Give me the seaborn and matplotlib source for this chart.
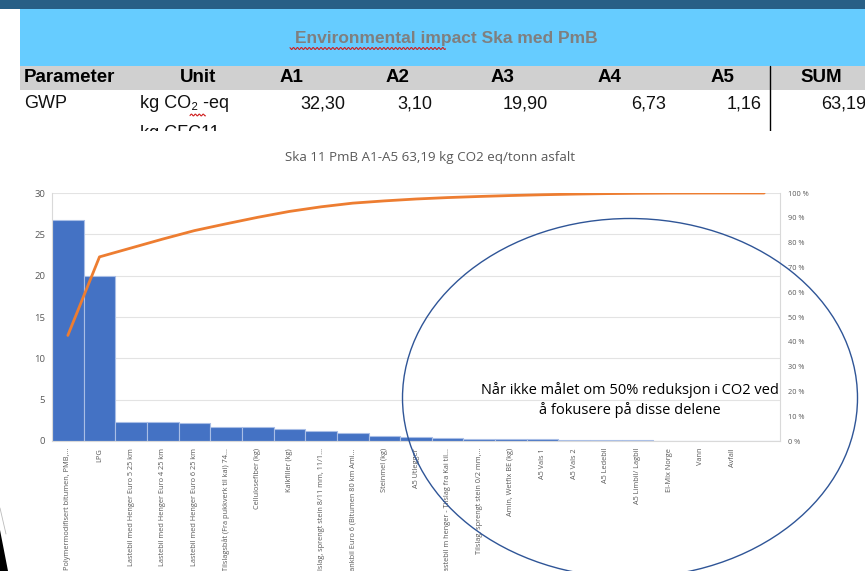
import numpy as np
import pandas as pd
import matplotlib
matplotlib.use('Agg')
import matplotlib.pyplot as plt
import seaborn as sns
from matplotlib.patches import Ellipse, Rectangle, Polygon
from matplotlib.ticker import FuncFormatter, MultipleLocator

# --- data -------------------------------------------------------------
categories = [
    "Polymermodifisert bitumen, PMB,...",
    "LPG",
    "Lastebil med Henger Euro 5 25 km",
    "Lastebil med Henger Euro 4 25 km",
    "Lastebil med Henger Euro 6 25 km",
    "Tilslagsbåt (Fra pukkverk til kai) 74...",
    "Cellulosefiber (kg)",
    "Kalkfiller (kg)",
    "Tilslag, sprengt stein 8/11 mm, 11/1...",
    "Tankbil Euro 6 (Bitumen 80 km Ami...",
    "Steinmel (kg)",
    "A5 Utlegger",
    "Lastebil m henger - Tilslag fra Kai til...",
    "Tilslag, sprengt stein 0/2 mm,...",
    "Amin, Wetfix BE (kg)",
    "A5 Vals 1",
    "A5 Vals 2",
    "A5 Ledebil",
    "A5 Limbil/ Lagbil",
    "El-Mix Norge",
    "Vann",
    "Avfall",
    " ",
]
values = [26.75, 19.90, 2.26, 2.26, 2.14, 1.72, 1.65, 1.49, 1.17, 0.93, 0.57,
          0.48, 0.36, 0.28, 0.24, 0.20, 0.16, 0.12, 0.08, 0.05, 0.02, 0.01, 0.0]

table_head = ["Parameter", "Unit", "A1", "A2", "A3", "A4", "A5", "SUM"]
table_row = ["GWP", "kg CO\u2082 -eq", "32,30", "3,10", "19,90", "6,73", "1,16", "63,19"]

chart_title = "Ska 11 PmB A1-A5 63,19 kg CO2 eq/tonn asfalt"
banner_title = "Environmental impact Ska med PmB"
note = "Når ikke målet om 50% reduksjon i CO2 ved\nå fokusere på disse delene"

df = pd.DataFrame({"kategori": categories, "verdi": values})
df["kum"] = df["verdi"].cumsum() / df["verdi"].sum()

# --- style --------------------------------------------------------------
sns.set_theme(style="white")
plt.rcParams["font.family"] = ["Open Sans", "DejaVu Sans"]
narrow = ["Liberation Sans", "DejaVu Sans"]

W, H = 865, 571
fig = plt.figure(figsize=(W / 100, H / 100), dpi=100)
fig.patch.set_facecolor("white")


def px_axes(x0, y0, x1, y1, **kw):
    return fig.add_axes([x0 / W, 1 - y1 / H, (x1 - x0) / W, (y1 - y0) / H], **kw)


# --- pareto chart -------------------------------------------------------
ax = px_axes(52, 193, 780, 441)
sns.barplot(data=df, x="kategori", y="verdi", ax=ax, color="#4472C4",
            width=1.0, saturation=1, edgecolor="#A9BEE6", linewidth=0.8)
ax.set_xlim(-0.5, len(df) - 0.5)
ax.set_ylim(0, 30)
ax.yaxis.set_major_locator(MultipleLocator(5))
ax.grid(axis="y", color="#E3E3E3", lw=0.8)
ax.set_axisbelow(True)
ax.set_xlabel("")
ax.set_ylabel("")
ax.set_xticks(range(len(df)))
ax.set_xticklabels(df["kategori"], rotation=90, ha="center", va="top",
                   fontsize=5.3, color="#595959")
ax.tick_params(axis="x", length=0, pad=5)
ax.tick_params(axis="y", length=0, pad=5, labelsize=6.8, labelcolor="#595959")
for s in ["left", "right", "bottom"]:
    ax.spines[s].set_color("#D9D9D9")
    ax.spines[s].set_linewidth(0.8)
ax.spines["top"].set_visible(False)

ax2 = ax.twinx()
sns.lineplot(x=np.arange(len(df)), y=df["kum"].values, ax=ax2,
             color="#ED7D31", lw=2)
ax2.set_ylim(0, 1)
ax2.yaxis.set_major_locator(MultipleLocator(0.1))
ax2.yaxis.set_major_formatter(FuncFormatter(lambda v, p: f"{v * 100:.0f} %"))
ax2.tick_params(axis="y", length=0, pad=6, labelsize=5.3, labelcolor="#595959")
ax2.grid(False)
for s in ax2.spines.values():
    s.set_visible(False)

fig.text(430 / W, 1 - 158 / H, chart_title, ha="center", va="center",
         fontsize=9.6, color="#595959")

# --- overlay: screenshot header, ellipse, note ---------------------------
ov = fig.add_axes([0, 0, 1, 1], zorder=10)
ov.set_xlim(0, W)
ov.set_ylim(H, 0)
ov.axis("off")
ov.patch.set_alpha(0)

ov.add_patch(Rectangle((0, 0), W, 9, color="#285F86", lw=0))
ov.add_patch(Rectangle((20, 9), W - 20, 57, color="#66CCFF", lw=0))
ov.text(446, 38, banner_title, ha="center", va="center", fontsize=12.5,
        fontweight="bold", color="#7F7F7F", family=narrow)
wx = np.arange(290, 446, 0.5)
ov.plot(wx, 48.5 + 1.0 * np.sin(wx * 1.6), color="#D02020", lw=0.8)

ov.add_patch(Rectangle((20, 66), W - 20, 24, color="#D0D0D0", lw=0))
head_x = [24, 198, 280, 386, 491, 598, 711, 800]
head_ha = ["left", "center", "left", "left", "left", "left", "left", "left"]
for t, x, ha in zip(table_head, head_x, head_ha):
    ov.text(x, 78, t, ha=ha, va="center", fontsize=13.5, fontweight="bold",
            color="black", family=narrow)

row_x = [24, 140, 345, 432, 548, 666, 762, 866]
row_ha = ["left", "left", "right", "right", "right", "right", "right", "right"]
for t, x, ha in zip(table_row, row_x, row_ha):
    ov.text(x, 104, t, ha=ha, va="center", fontsize=13, color="#111111",
            family=narrow)
ex = np.arange(190, 206, 0.5)
ov.plot(ex, 115 + 0.9 * np.sin(ex * 1.6), color="#D02020", lw=0.8)
ov.text(140, 133, "kg CFC11", ha="left", va="center", fontsize=13,
        color="#111111", family=narrow)
ov.add_patch(Rectangle((0, 131), W, 14, color="white", lw=0, zorder=5))
ov.plot([770, 770], [66, 131], color="black", lw=1)

ov.add_patch(Ellipse((630, 398), 455, 359, fill=False, edgecolor="#2F5597",
                     lw=1))
ov.text(630, 400, note, ha="center", va="center", fontsize=10.5,
        color="black", linespacing=1.3)

ov.add_patch(Polygon([(0, 530), (8, 571), (0, 571)], color="black", lw=0))
ov.plot([0, 6], [508, 534], color="#BBBBBB", lw=0.6)

fig.savefig("out.png", dpi=100, facecolor="white")
